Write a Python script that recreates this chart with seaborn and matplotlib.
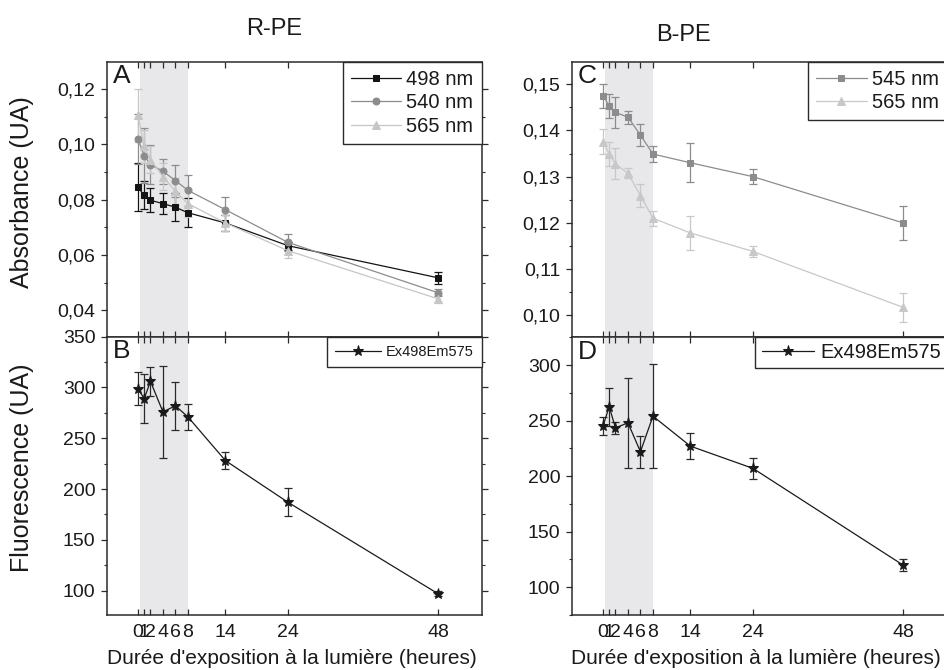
import numpy as np
import pandas as pd
import matplotlib
matplotlib.use("Agg")
import matplotlib.pyplot as plt
from matplotlib.ticker import MultipleLocator, FuncFormatter
import seaborn as sns

# Exposure times (hours)
hours = [0, 1, 2, 4, 6, 8, 14, 24, 48]

# R-PE absorbance (mean and error)
rpe_498 = [0.0845, 0.0816, 0.0798, 0.0786, 0.0773, 0.0753, 0.0716, 0.0634, 0.0518]
rpe_498_err = [0.0087, 0.0050, 0.0043, 0.0039, 0.0051, 0.0053, 0.0030, 0.0015, 0.0022]
rpe_540 = [0.1019, 0.0959, 0.0927, 0.0903, 0.0869, 0.0834, 0.0764, 0.0646, 0.0464]
rpe_540_err = [0.0090, 0.0100, 0.0070, 0.0045, 0.0058, 0.0057, 0.0046, 0.0030, 0.0013]
rpe_565 = [0.1105, 0.0993, 0.0945, 0.0884, 0.0830, 0.0786, 0.0716, 0.0616, 0.0442]
rpe_565_err = [0.0095, 0.0060, 0.0050, 0.0050, 0.0050, 0.0050, 0.0030, 0.0025, 0.0015]

# R-PE fluorescence
rpe_fluo = [299, 289, 306, 276, 282, 271, 228, 187, 97]
rpe_fluo_err = [16, 24, 14.5, 45, 23.5, 12.7, 8.2, 13.6, 2.5]

# B-PE absorbance
bpe_545 = [0.1475, 0.1454, 0.1439, 0.1429, 0.1390, 0.1349, 0.1330, 0.1300, 0.1200]
bpe_545_err = [0.0026, 0.0026, 0.0034, 0.0014, 0.0024, 0.0017, 0.0042, 0.0016, 0.0037]
bpe_565 = [0.1376, 0.1349, 0.1328, 0.1307, 0.1259, 0.1210, 0.1178, 0.1138, 0.1017]
bpe_565_err = [0.0027, 0.0025, 0.0034, 0.0011, 0.0024, 0.0016, 0.0036, 0.0012, 0.0032]

# B-PE fluorescence
bpe_fluo = [245, 262.5, 243.5, 248, 222, 254, 227, 207, 120]
bpe_fluo_err = [7.8, 17.3, 5.6, 40.6, 14.3, 47, 11.6, 9.3, 5.1]

tick_hours = [0, 1, 2, 4, 6, 8, 14, 24, 48]
tick_labels = ["0", "1", "2", "4", "6", "8", "14", "24", "48"]

sns.set_theme(style="ticks")
plt.rcParams["font.family"] = ["Liberation Sans", "DejaVu Sans"]
NARROW = ["Liberation Sans Narrow", "Liberation Sans", "DejaVu Sans"]

fig = plt.figure(figsize=(9.45, 6.7), dpi=100)
W, H = 945.0, 670.0


def px_axes(left, top, right, bottom):
    return fig.add_axes([left / W, 1 - bottom / H, (right - left) / W, (bottom - top) / H])


axA = px_axes(106.7, 61.7, 481.7, 336.7)
axB = px_axes(106.7, 336.7, 481.7, 615.0)
axC = px_axes(571.7, 61.7, 946.7, 337.3)
axD = px_axes(571.7, 337.3, 946.7, 615.0)

SPINE = "#2b2b2b"
TEXT = "#1a1a1a"


def series(ax, y, err, color, marker, ms, label, ecolor=None, lw=0.9):
    df = pd.DataFrame({"h": hours, "v": y})
    sns.lineplot(data=df, x="h", y="v", ax=ax, color=color, marker=marker,
                 markersize=ms, markeredgecolor=color, markerfacecolor=color,
                 linewidth=lw, label=label, errorbar=None, sort=False, zorder=3)
    ax.errorbar(hours, y, yerr=err, fmt="none", ecolor=ecolor or color,
                elinewidth=0.9, capsize=2.6, capthick=0.9, zorder=2)


def style(ax, ylim, yticks, yminor, fmt, show_x):
    ax.set_xlim(-5, 55)
    ax.set_ylim(*ylim)
    ax.axvspan(0.4, 8, color="#e8e8ea", zorder=0, lw=0)
    ax.set_xticks(tick_hours)
    ax.set_yticks(yticks)
    ax.yaxis.set_minor_locator(MultipleLocator(yminor))
    ax.yaxis.set_major_formatter(FuncFormatter(fmt))
    for s in ax.spines.values():
        s.set_color(SPINE)
        s.set_linewidth(1.1)
        s.set_visible(True)
    ax.tick_params(axis="y", which="major", direction="out", length=4, width=0.9,
                   color=SPINE, left=True, right=True, labelsize=14, pad=4,
                   labelcolor=TEXT)
    ax.tick_params(axis="y", which="minor", direction="out", length=2.2, width=0.8,
                   color=SPINE, left=True, right=True)
    ax.tick_params(axis="x", which="major", direction="in", length=4.5, width=0.9,
                   color=SPINE, bottom=True, top=True, pad=6.5,
                   labelbottom=show_x, labelcolor=TEXT)
    if show_x:
        ax.set_xticklabels(tick_labels, family=NARROW, fontsize=14)
    ax.set_xlabel("")
    ax.set_ylabel("")
    ax.grid(False)


def comma2(v, p):
    return f"{v:.2f}".replace(".", ",")


def plain(v, p):
    return f"{v:.0f}"


def legend(ax, **kw):
    opts = dict(loc="upper right", borderaxespad=0, fancybox=False, framealpha=1,
                edgecolor=SPINE, numpoints=1)
    opts.update(kw)
    leg = ax.legend(**opts)
    leg.get_frame().set_linewidth(1.0)
    for t in leg.get_texts():
        t.set_color(TEXT)
    return leg


# Panel A: R-PE absorbance
series(axA, rpe_498, rpe_498_err, "#141414", "s", 4.6, "498 nm")
series(axA, rpe_540, rpe_540_err, "#8c8c8c", "o", 5.0, "540 nm")
series(axA, rpe_565, rpe_565_err, "#c6c6c6", "^", 5.2, "565 nm")
style(axA, (0.0305, 0.1299), [0.04, 0.06, 0.08, 0.10, 0.12], 0.01, comma2, False)
legend(axA, fontsize=14.5, handlelength=2.5, handletextpad=0.25,
       borderpad=0.4, labelspacing=0.22)

# Panel B: R-PE fluorescence
series(axB, rpe_fluo, rpe_fluo_err, "#1a1a1a", "*", 8, "Ex498Em575", ecolor="#2a2a2a")
style(axB, (76, 350), [100, 150, 200, 250, 300, 350], 25, plain, True)
legend(axB, fontsize=10.5, handlelength=3.2, handletextpad=0.3, borderpad=0.55)

# Panel C: B-PE absorbance
series(axC, bpe_545, bpe_545_err, "#8c8c8c", "s", 4.6, "545 nm")
series(axC, bpe_565, bpe_565_err, "#c8c8c8", "^", 5.2, "565 nm")
style(axC, (0.0952, 0.1549), [0.10, 0.11, 0.12, 0.13, 0.14, 0.15], 0.005, comma2, False)
legend(axC, fontsize=14.5, handlelength=2.5, handletextpad=0.25,
       borderpad=0.4, labelspacing=0.22)

# Panel D: B-PE fluorescence
series(axD, bpe_fluo, bpe_fluo_err, "#1a1a1a", "*", 8, "Ex498Em575", ecolor="#2a2a2a")
style(axD, (75, 325), [100, 150, 200, 250, 300], 25, plain, True)
legend(axD, fontsize=14.5, handlelength=2.6, handletextpad=0.3, borderpad=0.3)

# Panel letters
for ax, letter in [(axA, "A"), (axB, "B"), (axC, "C"), (axD, "D")]:
    ax.text(0.017, 0.99, letter, transform=ax.transAxes, ha="left", va="top",
            fontsize=19, color=TEXT, zorder=5)

# Titles and shared axis labels
fig.text(274 / W, 1 - 29 / H, "R-PE", ha="center", va="center", fontsize=17, color=TEXT)
fig.text(684 / W, 1 - 35 / H, "B-PE", ha="center", va="center", fontsize=17, color=TEXT)
fig.text(22 / W, 1 - 192 / H, "Absorbance (UA)", rotation=90, ha="center", va="center",
         fontsize=18, color=TEXT)
fig.text(22 / W, 1 - 468 / H, "Fluorescence (UA)", rotation=90, ha="center", va="center",
         fontsize=18, color=TEXT)
fig.text(292 / W, 1 - 659 / H, "Durée d'exposition à la lumière (heures)", ha="center",
         va="center", fontsize=15, family=NARROW, color=TEXT)
fig.text(756 / W, 1 - 659 / H, "Durée d'exposition à la lumière (heures)", ha="center",
         va="center", fontsize=15, family=NARROW, color=TEXT)

fig.savefig("out.png", dpi=100)
